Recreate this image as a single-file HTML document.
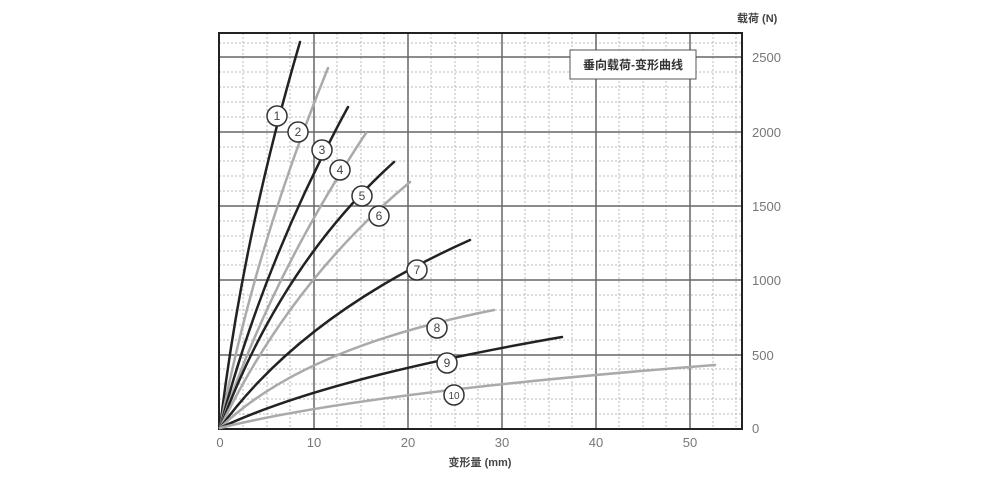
<!DOCTYPE html>
<html><head><meta charset="utf-8"><style>body{margin:0;background:#fff}svg{display:block}</style></head><body>
<svg width="1000" height="480" viewBox="0 0 1000 480" font-family="Liberation Sans, Noto Sans CJK SC, sans-serif">
<g stroke="#bbb" stroke-width="1" stroke-dasharray="2,2">
<line x1="243" y1="33" x2="243" y2="429"/><line x1="267" y1="33" x2="267" y2="429"/><line x1="290" y1="33" x2="290" y2="429"/>
<line x1="337" y1="33" x2="337" y2="429"/><line x1="361" y1="33" x2="361" y2="429"/><line x1="384" y1="33" x2="384" y2="429"/>
<line x1="431" y1="33" x2="431" y2="429"/><line x1="455" y1="33" x2="455" y2="429"/><line x1="478" y1="33" x2="478" y2="429"/>
<line x1="525" y1="33" x2="525" y2="429"/><line x1="549" y1="33" x2="549" y2="429"/><line x1="572" y1="33" x2="572" y2="429"/>
<line x1="619" y1="33" x2="619" y2="429"/><line x1="643" y1="33" x2="643" y2="429"/><line x1="666" y1="33" x2="666" y2="429"/>
<line x1="713" y1="33" x2="713" y2="429"/><line x1="736" y1="33" x2="736" y2="429"/>
<line x1="219" y1="414" x2="742" y2="414"/><line x1="219" y1="399" x2="742" y2="399"/><line x1="219" y1="384" x2="742" y2="384"/><line x1="219" y1="369" x2="742" y2="369"/>
<line x1="219" y1="340" x2="742" y2="340"/><line x1="219" y1="325" x2="742" y2="325"/><line x1="219" y1="310" x2="742" y2="310"/><line x1="219" y1="295" x2="742" y2="295"/>
<line x1="219" y1="265" x2="742" y2="265"/><line x1="219" y1="251" x2="742" y2="251"/><line x1="219" y1="236" x2="742" y2="236"/><line x1="219" y1="221" x2="742" y2="221"/>
<line x1="219" y1="191" x2="742" y2="191"/><line x1="219" y1="176" x2="742" y2="176"/><line x1="219" y1="161" x2="742" y2="161"/><line x1="219" y1="147" x2="742" y2="147"/>
<line x1="219" y1="117" x2="742" y2="117"/><line x1="219" y1="102" x2="742" y2="102"/><line x1="219" y1="87" x2="742" y2="87"/><line x1="219" y1="72" x2="742" y2="72"/>
<line x1="219" y1="43" x2="742" y2="43"/>
</g>
<g stroke="#666" stroke-width="1.5">
<line x1="314" y1="33" x2="314" y2="429"/><line x1="408" y1="33" x2="408" y2="429"/><line x1="502" y1="33" x2="502" y2="429"/><line x1="596" y1="33" x2="596" y2="429"/><line x1="690" y1="33" x2="690" y2="429"/>
<line x1="219" y1="355" x2="742" y2="355"/><line x1="219" y1="280" x2="742" y2="280"/><line x1="219" y1="206" x2="742" y2="206"/><line x1="219" y1="132" x2="742" y2="132"/><line x1="219" y1="57" x2="742" y2="57"/>
</g>
<rect x="219" y="33" width="523" height="396" fill="none" stroke="#222" stroke-width="2"/>
<g fill="none" stroke-width="2.5" stroke-linecap="round">
<path d="M220 428 Q242 240 300 42" stroke="#222"/>
<path d="M220 428 Q254 250 328 68" stroke="#aaa"/>
<path d="M220 428 Q262 265 348 107" stroke="#222"/>
<path d="M220 428 Q270 278 366 133" stroke="#aaa"/>
<path d="M220 428 Q280 265 394 162" stroke="#222"/>
<path d="M220 428 Q290 282 410 182" stroke="#aaa"/>
<path d="M220 428 Q302 315 470 240" stroke="#222"/>
<path d="M220 428 Q302 348 494 310" stroke="#aaa"/>
<path d="M220 428 Q325 378 562 337" stroke="#222"/>
<path d="M220 428 Q365 392 715 365" stroke="#aaa"/>
</g>
<g fill="#fff" stroke="#333" stroke-width="1.5">
<circle cx="277" cy="116" r="10"/><circle cx="298" cy="132" r="10"/><circle cx="322" cy="150" r="10"/><circle cx="340" cy="170" r="10"/><circle cx="362" cy="196" r="10"/><circle cx="379" cy="216" r="10"/><circle cx="417" cy="270" r="10"/><circle cx="437" cy="328" r="10"/><circle cx="447" cy="363" r="10"/><circle cx="454" cy="395" r="10"/>
</g>
<g font-size="12" fill="#444" text-anchor="middle">
<text x="277" y="120">1</text><text x="298" y="136">2</text><text x="322" y="154">3</text><text x="340" y="174">4</text><text x="362" y="200">5</text><text x="379" y="220">6</text><text x="417" y="274">7</text><text x="437" y="332">8</text><text x="447" y="367">9</text><text x="454" y="399" font-size="10">10</text>
</g>
<rect x="570" y="50" width="126" height="29" fill="#fff" stroke="#555"/>
<text x="633" y="69" font-size="12" font-weight="bold" fill="#333" text-anchor="middle">垂向载荷-变形曲线</text>
<g font-size="13" fill="#777" text-anchor="middle">
<text x="220" y="447">0</text><text x="314" y="447">10</text><text x="408" y="447">20</text><text x="502" y="447">30</text><text x="596" y="447">40</text><text x="690" y="447">50</text>
</g>
<g font-size="13" fill="#777">
<text x="752" y="433">0</text><text x="752" y="360">500</text><text x="752" y="285">1000</text><text x="752" y="211">1500</text><text x="752" y="137">2000</text><text x="752" y="62">2500</text>
</g>
<text x="737" y="22" font-size="11" font-weight="bold" fill="#444">载荷 (N)</text>
<text x="480" y="466" font-size="11" font-weight="bold" fill="#444" text-anchor="middle">变形量 (mm)</text>
</svg>
</body></html>
